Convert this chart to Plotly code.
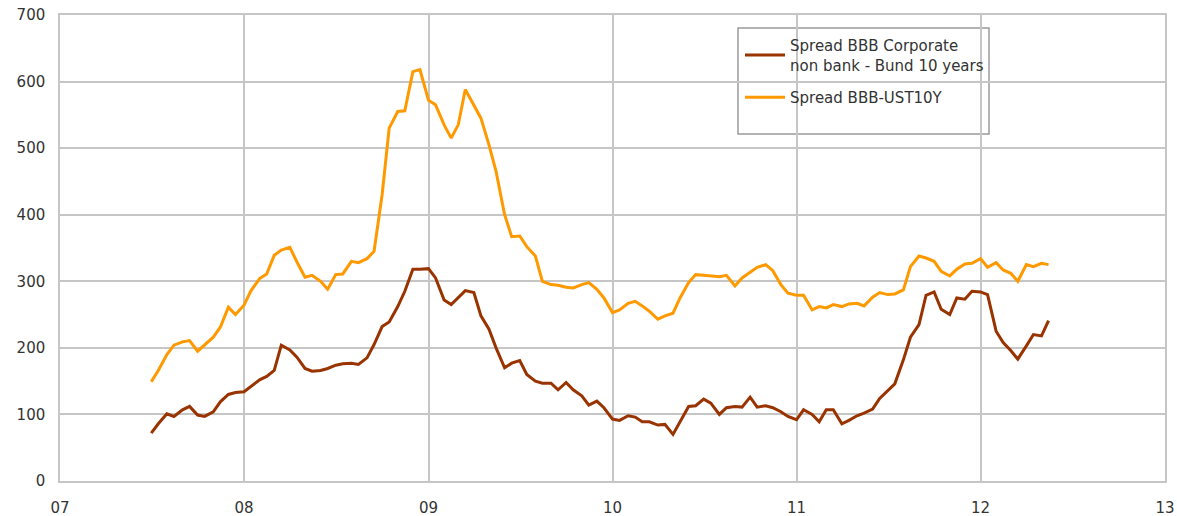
import pandas as pd
import plotly.graph_objects as go

# Semi-monthly observation dates (1st and 15th of each month), Jul 2007 - May 2012
dates = pd.date_range(start="2007-07-01", periods=118, freq="SMS")

series_bund_name = "Spread BBB Corporate<br>non bank - Bund 10 years"
series_ust_name = "Spread BBB-UST10Y"

spread_bbb_bund = [
    72, 86, 101, 97, 107, 112, 99, 97, 104, 119, 130, 133,
    134, 142, 152, 157, 166, 204, 197, 186, 169, 165, 166, 169,
    174, 176, 177, 175, 185, 205, 232, 239, 262, 285, 318, 318,
    319, 305, 272, 265, 276, 286, 283, 248, 228, 200, 170, 177,
    181, 160, 150, 147, 147, 137, 148, 137, 128, 114, 120, 110,
    93, 91, 98, 96, 89, 89, 84, 85, 70, 90, 112, 113,
    123, 117, 100, 110, 112, 111, 126, 111, 113, 110, 104, 97,
    92, 107, 100, 89, 107, 107, 86, 91, 98, 102, 108, 124,
    135, 146, 182, 216, 235, 279, 284, 258, 250, 275, 273, 285,
    284, 280, 225, 208, 196, 183, 203, 220, 218, 241,
]

spread_bbb_ust = [
    149, 166, 190, 204, 209, 211, 195, 205, 216, 231, 261, 250,
    264, 286, 304, 311, 339, 347, 351, 329, 306, 309, 300, 288,
    310, 311, 330, 328, 334, 345, 430, 530, 555, 556, 615, 618,
    572, 565, 535, 515, 535, 588, 565, 545, 505, 465, 400, 367,
    368, 352, 338, 300, 295, 294, 291, 290, 295, 298, 288, 275,
    253, 257, 267, 270, 263, 255, 243, 248, 252, 275, 298, 310,
    309, 308, 307, 309, 293, 305, 313, 321, 325, 316, 295, 282,
    279, 279, 257, 262, 260, 265, 262, 266, 267, 263, 276, 283,
    280, 281, 287, 322, 338, 335, 330, 315, 308, 318, 326, 327,
    334, 321, 328, 317, 312, 300, 325, 322, 327, 325,
]

y_ticks = [0, 100, 200, 300, 400, 500, 600, 700]

FONT = "DejaVu Sans"
GRID = "#c6c6c6"

fig = go.Figure()
fig.add_trace(go.Scatter(
    x=dates, y=spread_bbb_bund, mode="lines", name=series_bund_name,
    legendgroup="bund", line=dict(color="#993300", width=3),
))
fig.add_trace(go.Scatter(
    x=dates, y=spread_bbb_ust, mode="lines", name=series_ust_name,
    legendgroup="ust", line=dict(color="#FF9900", width=3),
))

# legend frame (larger than its content, as in the original)
fig.add_shape(
    type="rect", xref="paper", yref="paper",
    x0=(738 - 60) / 1105, x1=(989 - 60) / 1105,
    y0=(481 - 134) / 466, y1=(481 - 28) / 466,
    line=dict(color="#9a9a9a", width=1.5), fillcolor="white", layer="below",
)

fig.update_layout(
    width=1177, height=516,
    margin=dict(l=60, r=12, t=15, b=35, autoexpand=False),
    paper_bgcolor="white", plot_bgcolor="white",
    font=dict(family=FONT, size=15, color="#333333"),
    showlegend=True,
    legend=dict(
        x=(740 - 60) / 1105, y=(481 - 29) / 466, xanchor="left", yanchor="top",
        bgcolor="rgba(0,0,0,0)", borderwidth=0,
        font=dict(family=FONT, size=15, color="#333333"),
        itemwidth=40, traceorder="grouped", tracegroupgap=10,
    ),
    xaxis=dict(
        type="date", automargin=False, ticklabeloverflow="allow",
        range=["2007-01-01", "2013-01-01"],
        dtick="M12", tick0="2007-01-01", tickformat="%y",
        showgrid=True, gridcolor=GRID, gridwidth=1.5,
        showline=True, linecolor=GRID, linewidth=1.5, mirror=True,
        ticks="outside", ticklen=12, tickcolor="rgba(0,0,0,0)",
        zeroline=False,
    ),
    yaxis=dict(
        automargin=False, ticklabeloverflow="allow",
        range=[0, 700], tickvals=y_ticks,
        showgrid=True, gridcolor=GRID, gridwidth=1.5,
        showline=True, linecolor=GRID, linewidth=1.5, mirror=True,
        ticks="outside", ticklen=10, tickcolor="rgba(0,0,0,0)",
        zeroline=False,
    ),
)

fig.write_html(
    "out.html",
    config={"displayModeBar": False},
    post_script="document.body.style.margin='0';document.body.style.overflow='hidden';",
)
